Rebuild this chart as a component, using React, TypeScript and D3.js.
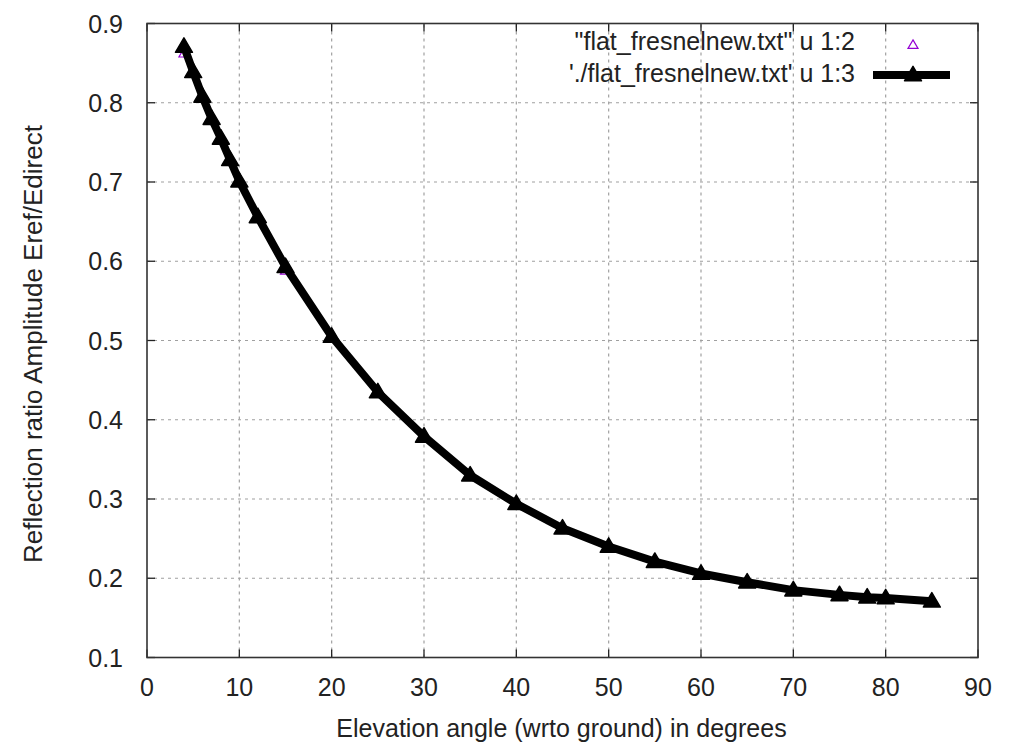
import React from "react";
import * as d3 from "d3";

const elevation = [4, 5, 6, 7, 8, 9, 10, 12, 15, 20, 25, 30, 35, 40, 45, 50, 55, 60, 65, 70, 75, 78, 80, 85];
const col3 = [0.871, 0.839, 0.808, 0.780, 0.755, 0.728, 0.701, 0.656, 0.593, 0.505, 0.435, 0.379, 0.330, 0.294, 0.263, 0.240, 0.221, 0.206, 0.195, 0.185, 0.179, 0.176, 0.175, 0.171];
const col2 = [0.862, 0.839, 0.808, 0.780, 0.755, 0.728, 0.701, 0.656, 0.588, 0.505, 0.435, 0.379, 0.330, 0.294, 0.263, 0.240, 0.221, 0.206, 0.195, 0.185, 0.179, 0.176, 0.175, 0.171];
const xTicks = [0, 10, 20, 30, 40, 50, 60, 70, 80, 90];
const yTicks = [0.1, 0.2, 0.3, 0.4, 0.5, 0.6, 0.7, 0.8, 0.9];
const legendLabels = ['"flat_fresnelnew.txt" u 1:2', "'./flat_fresnelnew.txt' u 1:3"];
const xTitle = "Elevation angle (wrto ground) in degrees";
const yTitle = "Reflection ratio Amplitude Eref/Edirect";

const W = 1009, H = 744;
const L = 147, R = 978, T = 23.5, B = 657.5;
const FONT = "'Liberation Sans', Arial, sans-serif";
const FS = 25;

export default function App() {
  const x = d3.scaleLinear().domain([0, 90]).range([L, R]);
  const y = d3.scaleLinear().domain([0.1, 0.9]).range([B, T]);
  const line = d3.line<number>().x((_, i) => x(elevation[i])).y((v) => y(v));
  const tri = (cx: number, cy: number, s: number) => {
    const h = s * 0.85;
    return `M${cx},${cy - h * 0.6} L${cx + s / 2},${cy + h * 0.4} L${cx - s / 2},${cy + h * 0.4} Z`;
  };
  const gridColor = "#a0a0a0";
  const purple = "#9400d3";
  return (
    <svg width={W} height={H} style={{ position: "absolute", left: 0, top: 0, background: "#fff" }} fontFamily={FONT}>
      <rect x={0} y={0} width={W} height={H} fill="#fff" />
      {/* grid */}
      {xTicks.slice(1, -1).map((t) => (
        <line key={"gx" + t} x1={x(t)} x2={x(t)} y1={B} y2={T} stroke={gridColor} strokeWidth={1.2} strokeDasharray="3,4" />
      ))}
      {yTicks.slice(1, -1).map((t) => (
        <line key={"gy" + t} x1={L} x2={R} y1={y(t)} y2={y(t)} stroke={gridColor} strokeWidth={1.2} strokeDasharray="3,4" />
      ))}
      {/* ticks */}
      {xTicks.map((t) => (
        <g key={"tx" + t}>
          <line x1={x(t)} x2={x(t)} y1={B} y2={B - 8} stroke="#222" strokeWidth={1.3} />
          <line x1={x(t)} x2={x(t)} y1={T} y2={T + 8} stroke="#222" strokeWidth={1.3} />
          <text x={x(t)} y={696} textAnchor="middle" fontSize={FS} fill="#222">{t}</text>
        </g>
      ))}
      {yTicks.map((t) => (
        <g key={"ty" + t}>
          <line x1={L} x2={L + 8} y1={y(t)} y2={y(t)} stroke="#222" strokeWidth={1.3} />
          <line x1={R} x2={R - 8} y1={y(t)} y2={y(t)} stroke="#222" strokeWidth={1.3} />
          <text x={123} y={y(t) + 9} textAnchor="end" fontSize={FS} fill="#222">{t.toFixed(1)}</text>
        </g>
      ))}
      {/* frame */}
      <rect x={L} y={T} width={R - L} height={B - T} fill="none" stroke="#333" strokeWidth={1.6} />
      {/* series 1:2 */}
      {col2.map((v, i) => (
        <path key={"p2" + i} d={tri(x(elevation[i]), y(v), 10)} fill="none" stroke={purple} strokeWidth={1.2} />
      ))}
      {/* series 1:3 */}
      <path d={line(col3) || ""} fill="none" stroke="#000" strokeWidth={8} strokeLinejoin="round" />
      {col3.map((v, i) => (
        <path key={"p3" + i} d={tri(x(elevation[i]), y(v), 17)} fill="#000" stroke="#000" strokeWidth={1.5} strokeLinejoin="round" />
      ))}
      {/* legend */}
      <text x={855} y={50} textAnchor="end" fontSize={FS} fill="#222">{legendLabels[0]}</text>
      <path d={tri(913, 45, 10)} fill="none" stroke={purple} strokeWidth={1.2} />
      <text x={855} y={82} textAnchor="end" fontSize={FS} fill="#222">{legendLabels[1]}</text>
      <line x1={873} x2={950} y1={75} y2={75} stroke="#000" strokeWidth={8} />
      <path d={tri(913, 75, 17)} fill="#000" stroke="#000" strokeWidth={1.5} strokeLinejoin="round" />
      {/* axis titles */}
      <text x={(L + R) / 2 - 1} y={737} textAnchor="middle" fontSize={FS} fill="#222">{xTitle}</text>
      <text transform={`translate(42,344) rotate(-90)`} textAnchor="middle" fontSize={26} fill="#222">{yTitle}</text>
    </svg>
  );
}
